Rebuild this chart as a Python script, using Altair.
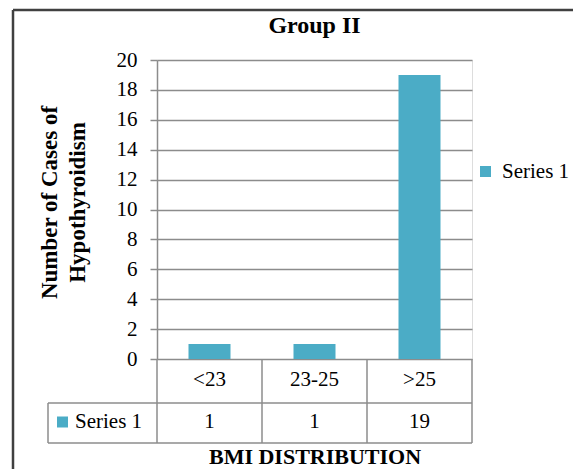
import altair as alt
import pandas as pd

categories = ["<23", "23-25", ">25"]
values = [1, 1, 19]
series_name = "Series 1"
y_ticks = [0, 2, 4, 6, 8, 10, 12, 14, 16, 18, 20]

FONT = "Liberation Serif"
BAR = "#4BACC6"
GRID = "#8c8c8c"
BORDER = "#404040"

L, T = 157, 60          # plot origin in the page
W, H = 315, 299         # plot area
R1, R2 = 44, 84         # table row boundaries below the plot
KEY_LEFT = -109         # left edge of the "Series 1" cell

df = pd.DataFrame({"cat": categories, "value": values, "series": [series_name] * len(categories)})
one = pd.DataFrame({"k": [0]})

xenc = alt.X("cat:N", sort=categories,
             scale=alt.Scale(paddingInner=0, paddingOuter=0),
             axis=alt.Axis(labels=False, ticks=False, domain=False, grid=False,
                           title="BMI DISTRIBUTION", titleFont=FONT, titleFontSize=22,
                           titleFontWeight="bold", titleColor="#000",
                           titleBaseline="alphabetic", titleY=104, titleX=W / 2))

bars = alt.Chart(df).mark_bar(width=alt.RelativeBandSize(0.4)).encode(
    x=xenc,
    y=alt.Y("value:Q", scale=alt.Scale(domain=[0, 20], nice=False),
            axis=alt.Axis(values=y_ticks, grid=True, gridColor=GRID, gridWidth=1.5,
                          domainColor=GRID, domainWidth=1.5, tickColor=GRID, tickWidth=1.5,
                          tickSize=7, labelPadding=13, labelFont=FONT, labelFontSize=21,
                          labelColor="#000",
                          title=["Number of Cases of", "Hypothyroidism"],
                          titleFont=FONT, titleFontSize=23, titleFontWeight="bold",
                          titleColor="#000", titleAngle=-90, titleAlign="center",
                          titleBaseline="middle", titleLineHeight=28,
                          titleX=-108, titleY=142)),
    color=alt.Color("series:N", scale=alt.Scale(domain=[series_name], range=[BAR]),
                    legend=alt.Legend(title=None, orient="none", legendX=318, legendY=101,
                                      symbolType="square", symbolSize=121,
                                      symbolStrokeWidth=0, labelFont=FONT,
                                      labelFontSize=21, labelColor="#000",
                                      labelOffset=6, padding=0)),
)

row1_text = alt.Chart(df).mark_text(font=FONT, fontSize=21, color="#000", baseline="middle").encode(
    x=alt.X("cat:N", sort=categories), y=alt.value(H + 21), text="cat:N")
row2_text = alt.Chart(df).mark_text(font=FONT, fontSize=21, color="#000", baseline="middle").encode(
    x=alt.X("cat:N", sort=categories), y=alt.value(H + 63), text="value:Q")

vlines = alt.Chart(df).mark_rule(color=GRID, strokeWidth=1.5).encode(
    x=alt.X("cat:N", sort=categories, bandPosition=0), y=alt.value(H), y2=alt.value(H + R2))
vline_right = alt.Chart(one).mark_rule(color=GRID, strokeWidth=1.5).encode(
    x=alt.value(W), y=alt.value(H), y2=alt.value(H + R2))
vline_key = alt.Chart(one).mark_rule(color=GRID, strokeWidth=1.5).encode(
    x=alt.value(KEY_LEFT), y=alt.value(H + R1), y2=alt.value(H + R2))
hline1 = alt.Chart(one).mark_rule(color=GRID, strokeWidth=1.5).encode(
    x=alt.value(KEY_LEFT), x2=alt.value(W), y=alt.value(H + R1))
hline2 = alt.Chart(one).mark_rule(color=GRID, strokeWidth=1.5).encode(
    x=alt.value(KEY_LEFT), x2=alt.value(W), y=alt.value(H + R2))

key_sym = alt.Chart(one).mark_point(shape="square", filled=True, size=121, color=BAR, opacity=1).encode(
    x=alt.value(KEY_LEFT + 14.5), y=alt.value(H + 63))
key_txt = alt.Chart(one).mark_text(font=FONT, fontSize=21, color="#000", align="left",
                                   baseline="middle", text=series_name).encode(
    x=alt.value(KEY_LEFT + 27), y=alt.value(H + 63))

border_top = alt.Chart(one).mark_rule(color=BORDER, strokeWidth=2.5).encode(
    x=alt.value(13 - L), x2=alt.value(600 - L), y=alt.value(10 - T))
border_left = alt.Chart(one).mark_rule(color=BORDER, strokeWidth=2.5).encode(
    x=alt.value(13 - L), y=alt.value(10 - T), y2=alt.value(500 - T))

chart = alt.layer(
    vlines, vline_right, vline_key, hline1, hline2,
    bars, row1_text, row2_text, key_sym, key_txt, border_top, border_left,
).properties(
    width=W, height=H,
    title=alt.TitleParams("Group II", font=FONT, fontSize=24, fontWeight="bold",
                          color="#000", anchor="middle", frame="group",
                          baseline="alphabetic", offset=-48),
    autosize=alt.AutoSizeParams(type="none"),
    padding={"left": L, "top": T, "right": 573 - L - W, "bottom": 469 - T - H},
).configure_view(stroke=None).configure(background="white")

chart.save("out.html", embed_options={"renderer": "svg", "actions": False})
